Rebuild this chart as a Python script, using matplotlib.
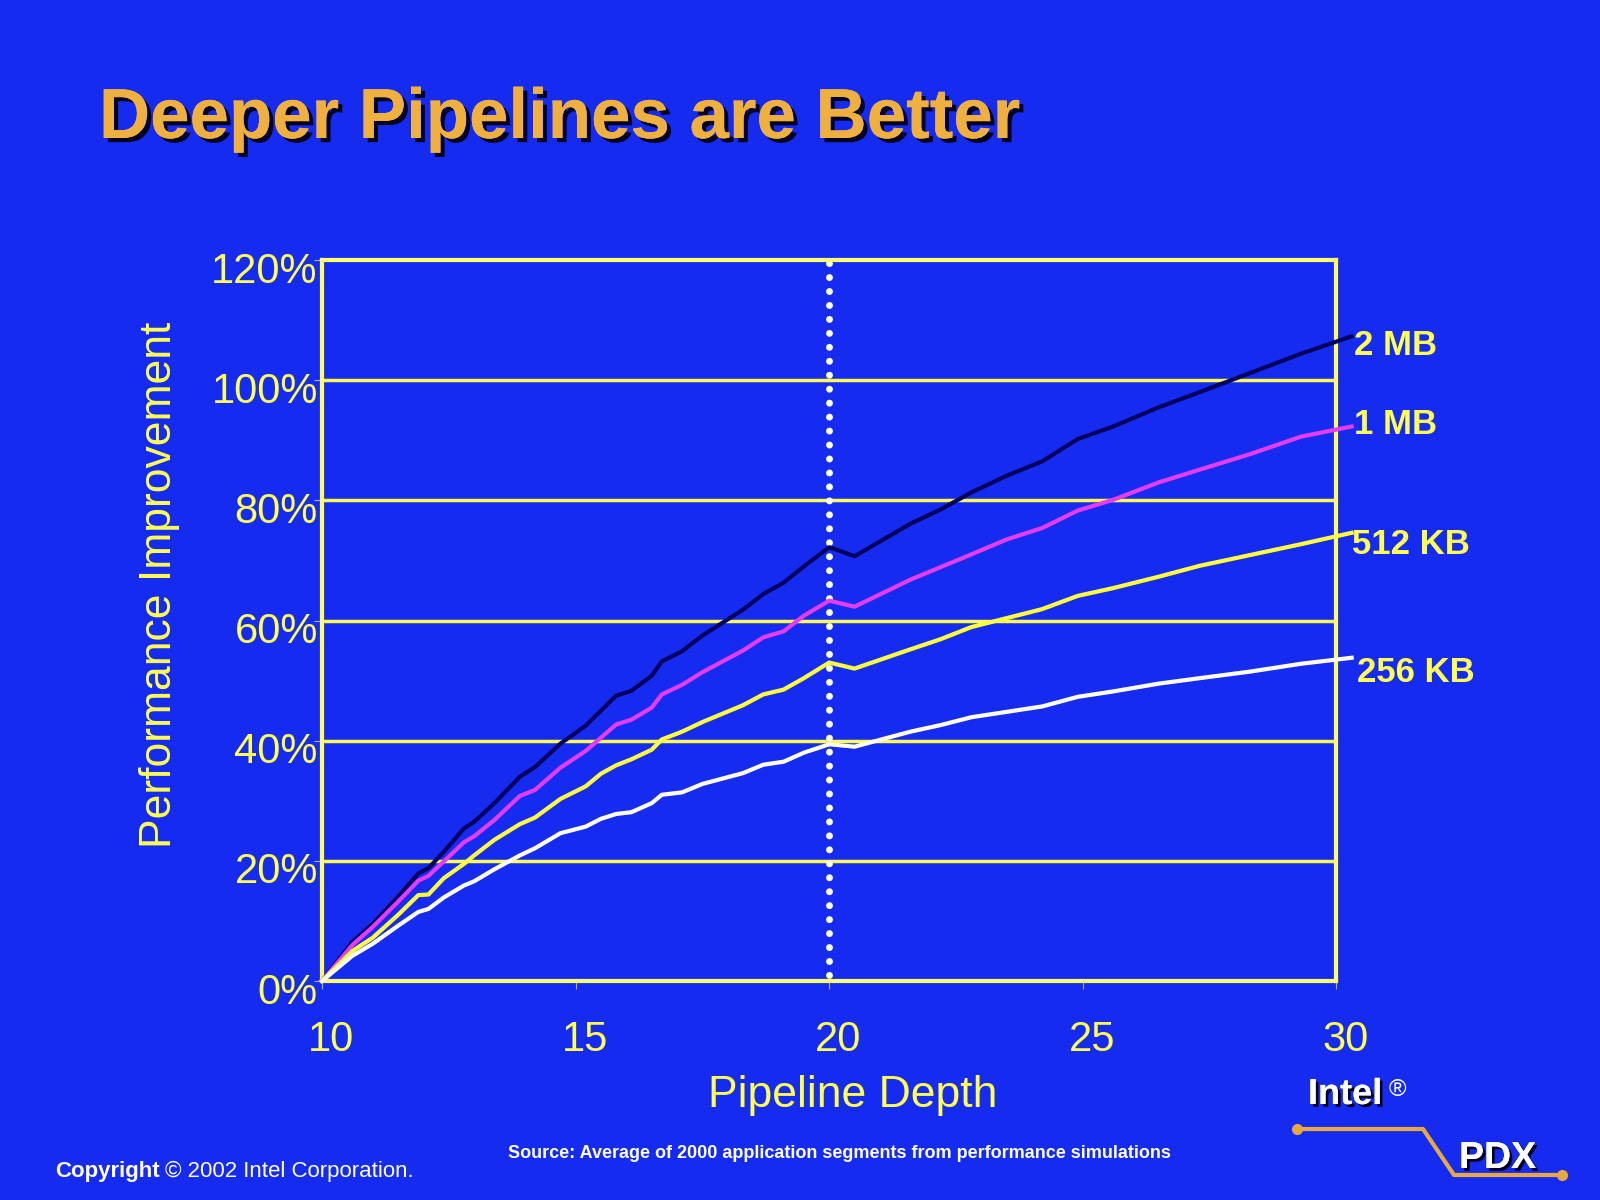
import matplotlib
matplotlib.use("Agg")
import matplotlib.pyplot as plt
import matplotlib.patheffects as pe
from matplotlib.transforms import ScaledTranslation

# pipeline depth and % improvement
depth = [10, 10.6, 11.0, 11.5, 11.9, 12.1, 12.4, 12.8, 13.0, 13.4, 13.9, 14.2, 14.7,
         15.2, 15.5, 15.8, 16.1, 16.5, 16.7, 17.1, 17.5, 18.3, 18.7, 19.1, 19.5,
         20.0, 20.5, 21.6, 22.2, 22.8, 23.5, 24.2, 24.9, 25.6, 26.5, 27.3, 28.3,
         29.3, 30.3]
mb2 = [0, 6.5, 9.5, 14.0, 17.9, 18.8, 21.5, 25.4, 26.5, 29.6, 34.0, 35.6, 39.5,
       42.5, 45.0, 47.5, 48.3, 50.8, 53.2, 54.9, 57.5, 61.8, 64.4, 66.3, 69.0,
       72.2, 70.7, 76.1, 78.5, 81.3, 84.1, 86.5, 90.2, 92.3, 95.5, 98.0, 101.2,
       104.4, 107.3]
mb1 = [0, 6.0, 9.0, 13.2, 16.7, 17.5, 19.9, 23.1, 24.1, 26.8, 30.8, 31.8, 35.5,
       38.3, 40.5, 42.7, 43.5, 45.5, 47.7, 49.3, 51.4, 55.0, 57.2, 58.2, 60.8,
       63.3, 62.3, 66.8, 68.9, 71.0, 73.5, 75.4, 78.3, 80.1, 83.0, 85.1, 87.7,
       90.6, 92.3]
kb512 = [0, 5.0, 7.2, 11.0, 14.3, 14.4, 17.1, 19.5, 20.9, 23.5, 26.1, 27.2, 30.3,
         32.4, 34.5, 35.9, 36.9, 38.5, 40.2, 41.5, 43.1, 45.9, 47.7, 48.5, 50.4,
         53.0, 52.0, 55.2, 56.9, 58.9, 60.4, 61.9, 64.1, 65.4, 67.3, 69.1, 70.9,
         72.7, 74.6]
kb256 = [0, 4.2, 6.2, 9.2, 11.5, 12.0, 13.9, 15.9, 16.6, 18.6, 20.9, 22.1, 24.6,
         25.7, 27.0, 27.8, 28.1, 29.6, 31.0, 31.4, 32.8, 34.6, 36.0, 36.5, 38.0,
         39.4, 39.0, 41.5, 42.6, 43.9, 44.8, 45.7, 47.3, 48.2, 49.5, 50.4, 51.5,
         52.8, 53.8]
series_names = ["2 MB", "1 MB", "512 KB", "256 KB"]
label_y = [105.8, 92.7, 72.7, 51.3]
label_x = [30.35, 30.35, 30.3, 30.4]
yticks = [0, 20, 40, 60, 80, 100, 120]
ytick_labels = ["0%", "20%", "40%", "60%", "80%", "100%", "120%"]
xticks = [10, 15, 20, 25, 30]

bg = "#152cf0"
yellow = "#ffff55"
colors = ["#000060", "#e63cf0", "#ffff40", "#fffff0"]

plt.rcParams["font.family"] = ["Liberation Sans", "DejaVu Sans"]

fig = plt.figure(figsize=(16, 12), dpi=100, facecolor=bg)
ax = fig.add_axes([0.20125, 0.1825, 0.634, 0.6008])
ax.set_facecolor(bg)

for yv in yticks[1:-1]:
    ax.axhline(yv, color=yellow, lw=2.5, zorder=1)
ax.plot([20, 20], [1, 119.5], color="white", lw=5, linestyle=(0, (0.01, 2.0)),
        dash_capstyle="round", zorder=2)

for ys, c, name, lx_, ly_ in zip([mb2, mb1, kb512, kb256], colors, series_names,
                                 label_x, label_y):
    ax.plot(depth, ys, color=c, lw=3, clip_on=False, zorder=3)
    ax.text(lx_, ly_, name, color=yellow, fontsize=25, fontweight="bold",
            va="center", ha="left", clip_on=False)

ax.set_xlim(10, 30)
ax.set_ylim(0, 120)
for s in ax.spines.values():
    s.set_color("#ffff70")
    s.set_linewidth(3)
ax.set_yticks(yticks)
ax.set_yticklabels(ytick_labels, fontsize=30, color=yellow)
ax.set_xticks(xticks)
ax.set_xticklabels([str(x) for x in xticks], fontsize=30, color=yellow)
ax.tick_params(axis="both", colors="#b0b0ff", length=6, width=0.8)
ax.tick_params(axis="y", labelcolor=yellow, pad=-3)
ax.tick_params(axis="x", labelcolor=yellow, pad=22)
for lab in ax.get_yticklabels():
    lab.set_transform(lab.get_transform() + ScaledTranslation(0, -0.07, fig.dpi_scale_trans))
for lab in ax.get_xticklabels():
    lab.set_transform(lab.get_transform() + ScaledTranslation(0.09, 0, fig.dpi_scale_trans))

fig.text(853 / 1600, 1 - 1095 / 1200, "Pipeline Depth", color=yellow, fontsize=32,
         ha="center", va="center")
fig.text(160 / 1600, 1 - 585 / 1200, "Performance Improvement", color=yellow,
         fontsize=32, ha="center", va="center", rotation=90)

shadow = [pe.withSimplePatchShadow(offset=(3, -3), shadow_rgbFace="#000020", alpha=1.0),
          pe.Normal()]
fig.text(99 / 1600, 1 - 138 / 1200, "Deeper Pipelines are Better", color="#f0b040",
         fontsize=51, fontweight="bold", ha="left", va="baseline", path_effects=shadow)

fig.text(839 / 1600, 1 - 1154 / 1200,
         "Source: Average of 2000 application segments from performance simulations",
         color="white", fontsize=13, fontweight="bold", ha="center", va="center")
fig.text(55 / 1600, 1 - 1171 / 1200, "Copyright", color="white", fontsize=16,
         fontweight="bold", ha="left", va="center")
fig.text(165 / 1600, 1 - 1171 / 1200, "© 2002 Intel Corporation.", color="white",
         fontsize=16, ha="left", va="center")

# Intel PDX logo
small_shadow = [pe.withSimplePatchShadow(offset=(2, -2), shadow_rgbFace="#000020", alpha=1.0),
                pe.Normal()]
fig.text(1308 / 1600, 1 - 1104 / 1200, "Intel", color="white", fontsize=26,
         fontweight="bold", ha="left", va="baseline", path_effects=small_shadow)
fig.text(1389 / 1600, 1 - 1096 / 1200, "®", color="white", fontsize=17,
         ha="left", va="baseline")
fig.text(1459 / 1600, 1 - 1168 / 1200, "PDX", color="white", fontsize=27,
         fontweight="bold", ha="left", va="baseline", path_effects=small_shadow)
lx = [1297 / 1600, 1423 / 1600, 1454 / 1600, 1562 / 1600]
ly = [1 - 1129 / 1200, 1 - 1129 / 1200, 1 - 1175 / 1200, 1 - 1175 / 1200]
fig.add_artist(plt.Line2D(lx, ly, color="#e8a840", lw=3, transform=fig.transFigure))
fig.add_artist(plt.Line2D([lx[0], lx[-1]], [ly[0], ly[-1]], color="#e8a840", lw=0,
                          marker="o", markersize=7, transform=fig.transFigure))

fig.savefig("out.png", dpi=100, facecolor=bg)
